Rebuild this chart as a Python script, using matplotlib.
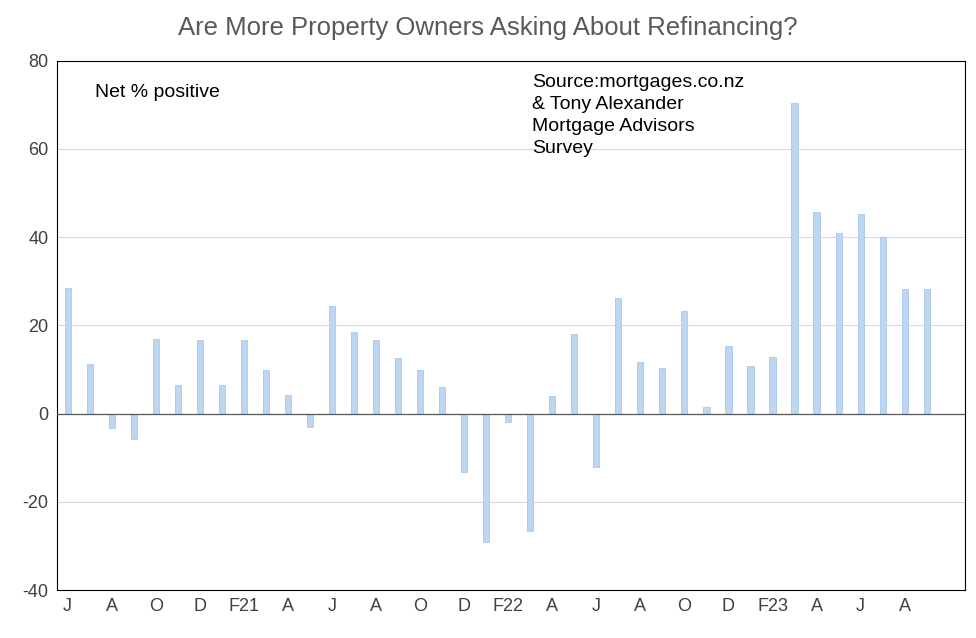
import matplotlib.pyplot as plt
import numpy as np

values = [28.5, 11.3, -3.2, -5.8, 17, 6.6, 16.8, 6.6, 16.8, 9.8, 4.3, -3,
          24.5, 18.6, 16.8, 12.6, 9.8, 6.1, -13.2, -29.2, -1.8, -26.6, 3.9, 18,
          -12.2, 26.3, 11.6, 10.3, 23.2, 1.4, 15.3, 10.9, 12.9, 70.5, 45.6, 41,
          45.3, 40, 28.3, 28.2]
tick_labels = ["J", "A", "O", "D", "F21", "A", "J", "A", "O", "D", "F22", "A",
               "J", "A", "O", "D", "F23", "A", "J", "A"]

plt.rcParams['font.family'] = ['Liberation Sans', 'DejaVu Sans']
plt.rcParams['axes.unicode_minus'] = False
fig = plt.figure(figsize=(9.76, 6.38), dpi=100)
ax = fig.add_axes([0.058, 0.075, 0.931, 0.83])

x = np.arange(len(values))
ax.bar(x, values, width=0.28, color='#bdd7f2', edgecolor='#a9c8ea', linewidth=0.6, zorder=2)
ax.axhline(0, color='#595959', linewidth=0.9, zorder=3)

ax.set_ylim(-40, 80)
ax.set_yticks(range(-40, 81, 20))
ax.set_xlim(-0.5, 40.75)
ax.set_xticks(x[::2])
ax.set_xticklabels(tick_labels)
ax.grid(axis='y', color='#d9d9d9', linewidth=0.8, zorder=0)
ax.tick_params(length=0, labelsize=13, colors='#404040', pad=6)
for s in ax.spines.values():
    s.set_color('black')
    s.set_linewidth(0.8)

ax.text(0.042, 0.955, "Net % positive", transform=ax.transAxes, fontsize=14, va='top')
ax.text(0.523, 0.975, "Source:mortgages.co.nz\n& Tony Alexander\nMortgage Advisors\nSurvey",
        transform=ax.transAxes, fontsize=14, va='top', linespacing=1.4)
fig.suptitle("Are More Property Owners Asking About Refinancing?", fontsize=18.5,
             color='#595959', y=0.975)

fig.savefig('out.png')
